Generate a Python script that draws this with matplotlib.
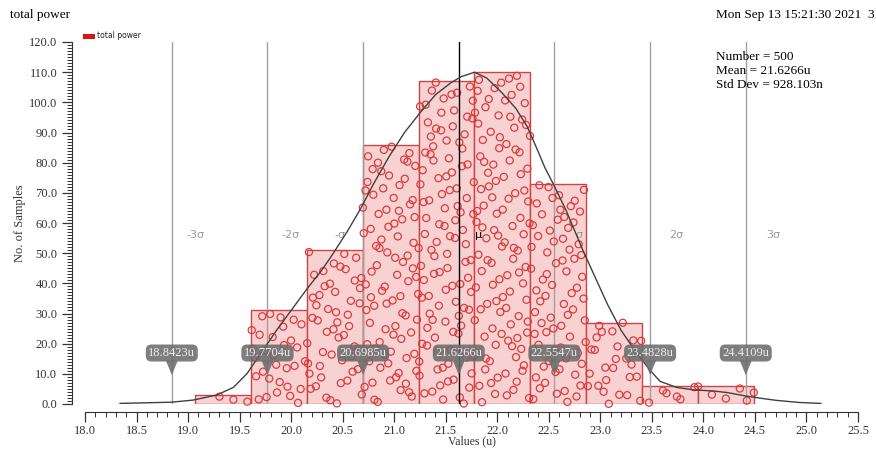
import numpy as np
import matplotlib
matplotlib.use("Agg")
import matplotlib.pyplot as plt
from matplotlib.patches import Polygon, Rectangle
from matplotlib.ticker import MultipleLocator

# ---------------- data ----------------
bin_lo = 19.067
bin_hi = 24.49
counts = [3, 31, 51, 86, 107, 110, 73, 27, 6, 6]

sigma_vals = [18.8423, 19.7704, 20.6985, 21.6266, 22.5547, 23.4828, 24.4109]
sigma_tags = ["18.8423u", "19.7704u", "20.6985u", "21.6266u", "22.5547u", "23.4828u", "24.4109u"]

sig_label_x = [19.07, 19.99, 20.47, 21.82, 22.79, 23.74, 24.68]
sig_label_txt = ["-3σ", "-2σ", "-σ", "μ", "σ", "2σ", "3σ"]

curve_x = [18.34, 18.6, 18.84, 19.05, 19.28, 19.44, 19.57, 19.70, 19.86, 20.0,
           20.15, 20.3, 20.41, 20.55, 20.67, 20.8, 20.95, 21.1, 21.25, 21.4,
           21.55, 21.65, 21.78, 21.9, 22.05, 22.18, 22.29, 22.38, 22.46, 22.55,
           22.67, 22.75, 22.83, 22.95, 23.07, 23.2, 23.35, 23.48, 23.58, 23.74,
           23.9, 24.1, 24.23, 24.42, 24.6, 24.71, 24.93, 25.14]
curve_y = [0.2, 0.4, 0.6, 1.3, 3.0, 5.5, 10.0, 16.5, 24.5, 31.0,
           38.0, 44.5, 50.0, 57.5, 64.5, 73.0, 82.0, 90.0, 96.5, 102.5,
           106.5, 108.5, 110.0, 108.0, 103.0, 98.0, 92.0, 85.0, 78.5, 72.5,
           64.0, 57.5, 51.0, 42.0, 33.0, 24.5, 17.0, 11.3, 7.5, 5.5,
           4.7, 4.3, 3.8, 2.6, 1.7, 1.2, 0.5, 0.2]

stats_text = "Number = 500\nMean = 21.6266u\nStd Dev = 928.103n"
title_left = "total power"
title_right = "Mon Sep 13 15:21:30 2021  3"
legend_label = "total power"

# ---------------- figure ----------------
W, H = 876, 450
fig = plt.figure(figsize=(W / 100, H / 100), dpi=100)
ax = fig.add_axes([85 / W, (H - 404) / H, 773 / W, 362 / H])
ax.set_xlim(18.0, 25.5)
ax.set_ylim(0, 120)

serif = "Liberation Serif"

nb = len(counts)
edges = np.linspace(bin_lo, bin_hi, nb + 1)
bw = edges[1] - edges[0]

bar_face = "#f8d2d2"
bar_edge = "#cc4444"
dot_col = "#dd3a3a"

ax.bar(edges[:-1], counts, width=bw, align="edge", color=bar_face,
       edgecolor=bar_edge, linewidth=1.0, zorder=2)

# sample dots (deterministic low-discrepancy placement inside each bin)
def halton(i, b):
    f, r = 1.0, 0.0
    while i > 0:
        f /= b
        r += f * (i % b)
        i //= b
    return r

dx, dy = [], []
k = 13
for j, c in enumerate(counts):
    for n in range(c):
        u = halton(k, 2)
        v = halton(k, 3)
        k += 1
        dx.append(edges[j] + u * bw)
        dy.append(v * c)
ax.scatter(dx, dy, s=26, facecolors="none", edgecolors=dot_col,
           linewidths=0.9, zorder=3, clip_on=False)

# sigma lines
for i, s in enumerate(sigma_vals):
    col = "black" if i == 3 else "#a0a0a0"
    ax.plot([s, s], [0, 120], color=col, lw=1.0, zorder=4 if i == 3 else 2.5)

# sigma labels
for xv, t in zip(sig_label_x, sig_label_txt):
    col = "black" if t == "μ" else "#9a9a9a"
    ax.text(xv, 56, t, color=col, fontsize=8, ha="center", va="center",
            family="DejaVu Sans", zorder=5 if t == "μ" else 2.6)

# curve
ax.plot(curve_x, curve_y, color="#404040", lw=1.0, zorder=5)

# callouts
for s, tag in zip(sigma_vals, sigma_tags):
    ax.text(s, 16.9, tag, fontsize=9, family=serif, color="#eeeeee",
            ha="center", va="center", zorder=7,
            bbox=dict(boxstyle="round,pad=0.2,rounding_size=0.45",
                      fc="#6c6c6c", ec="none", alpha=0.88))
    tri = Polygon([[s - 0.058, 14.4], [s + 0.058, 14.4], [s, 9.6]],
                  closed=True, fc="#6c6c6c", ec="none", alpha=0.88, zorder=7)
    ax.add_patch(tri)

# spines / ticks
for sp in ["top", "right"]:
    ax.spines[sp].set_visible(False)
ax.spines["left"].set_position(("outward", 9.4))
ax.spines["bottom"].set_position(("outward", 5.8))
ax.spines["left"].set_bounds(0, 120)
ax.spines["bottom"].set_bounds(18.0, 25.5)
ax.spines["left"].set_color("#333333")
ax.spines["bottom"].set_color("#333333")

ax.xaxis.set_major_locator(MultipleLocator(0.5))
ax.xaxis.set_minor_locator(MultipleLocator(0.1))
ax.yaxis.set_major_locator(MultipleLocator(10))
ax.yaxis.set_minor_locator(MultipleLocator(1))
ax.tick_params(axis="both", which="major", length=7, width=0.9, color="#333333",
               labelsize=9, labelcolor="#333333")
ax.tick_params(axis="x", which="major", pad=2)
ax.tick_params(axis="both", which="minor", length=3.5, width=0.7, color="#333333")
ax.set_xticklabels([f"{v:.1f}" for v in ax.get_xticks()], family=serif)
ax.set_yticklabels([f"{v:.1f}" for v in ax.get_yticks()], family=serif)
ax.set_xlim(18.0, 25.5)
ax.set_ylim(0, 120)

ax.set_xlabel("Values (u)", family=serif, fontsize=8.5, color="#333333", labelpad=-1)
ax.set_ylabel("No. of Samples", family=serif, fontsize=9, color="#333333", labelpad=2)

# texts
fig.text(10 / W, 1 - 15 / H, title_left, family=serif, fontsize=9.5, va="center", ha="left")
fig.text(874 / W, 1 - 15 / H, title_right, family=serif, fontsize=9.5, va="center", ha="right")
fig.text(716 / W, 1 - 51 / H, stats_text, family=serif,
         fontsize=9.5, va="top", ha="left", linespacing=1.2)
fig.patches.append(Rectangle((83 / W, 1 - 39 / H), 12 / W, 5 / H,
                             transform=fig.transFigure, fc="#dd1111", ec="none"))
fig.text(97 / W, 1 - 36 / H, legend_label, fontsize=5.5, family="DejaVu Sans",
         va="center", ha="left", color="#222222")

fig.savefig("out.png", dpi=100)
